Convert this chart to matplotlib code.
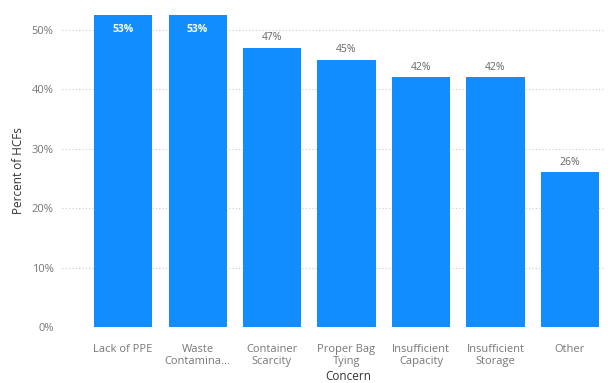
import numpy as np
import matplotlib.pyplot as plt

plt.rcParams['font.family'] = ['Open Sans', 'DejaVu Sans']

concerns = ["Lack of PPE", "Waste\nContamina...", "Container\nScarcity", "Proper Bag\nTying",
            "Insufficient\nCapacity", "Insufficient\nStorage", "Other"]
pct = [53, 53, 47, 45, 42, 42, 26]
yticks = [0, 10, 20, 30, 40, 50]

blue = '#118DFF'
grey = '#666666'

fig = plt.figure(figsize=(6.08, 3.83), dpi=100)
ax = fig.add_axes([0.102, 0.146, 0.893, 0.815])

x = np.arange(len(concerns))
ax.bar(x, pct, width=0.78, color=blue, zorder=2)

ymax = 52.5
ax.set_ylim(0, ymax)
ax.set_xlim(-0.82, len(concerns) - 1 + 0.47)

for xi, v in zip(x, pct):
    if v > ymax - 2:
        # bar runs off the top, so the label goes inside
        ax.text(xi, 50, f"{v}%", ha='center', va='center', color='white',
                fontsize=7.5, fontweight='bold', zorder=3)
    else:
        ax.text(xi, v + 0.8, f"{v}%", ha='center', va='bottom', color=grey,
                fontsize=7.5, zorder=3)

ax.set_yticks(yticks)
ax.set_yticklabels([f"{t}%" for t in yticks])
ax.set_xticks(x)
ax.set_xticklabels(concerns, linespacing=1.2)
ax.tick_params(axis='both', length=0, labelsize=8, labelcolor='#777777')
ax.tick_params(axis='y', pad=6)
ax.tick_params(axis='x', pad=12)

ax.yaxis.grid(True, linestyle=(0, (1, 2)), color='#cccccc', linewidth=0.8, zorder=0)
for s in ax.spines.values():
    s.set_visible(False)

ax.set_ylabel("Percent of HCFs", fontsize=8.5, color='#333333')
ax.yaxis.set_label_coords(-0.068, 0.5)
# axis title sits right at the bottom edge
fig.text(0.572, 0.0, "Concern", ha='center', va='bottom', fontsize=8.5, color='#333333')

fig.savefig('out.png', dpi=100)
